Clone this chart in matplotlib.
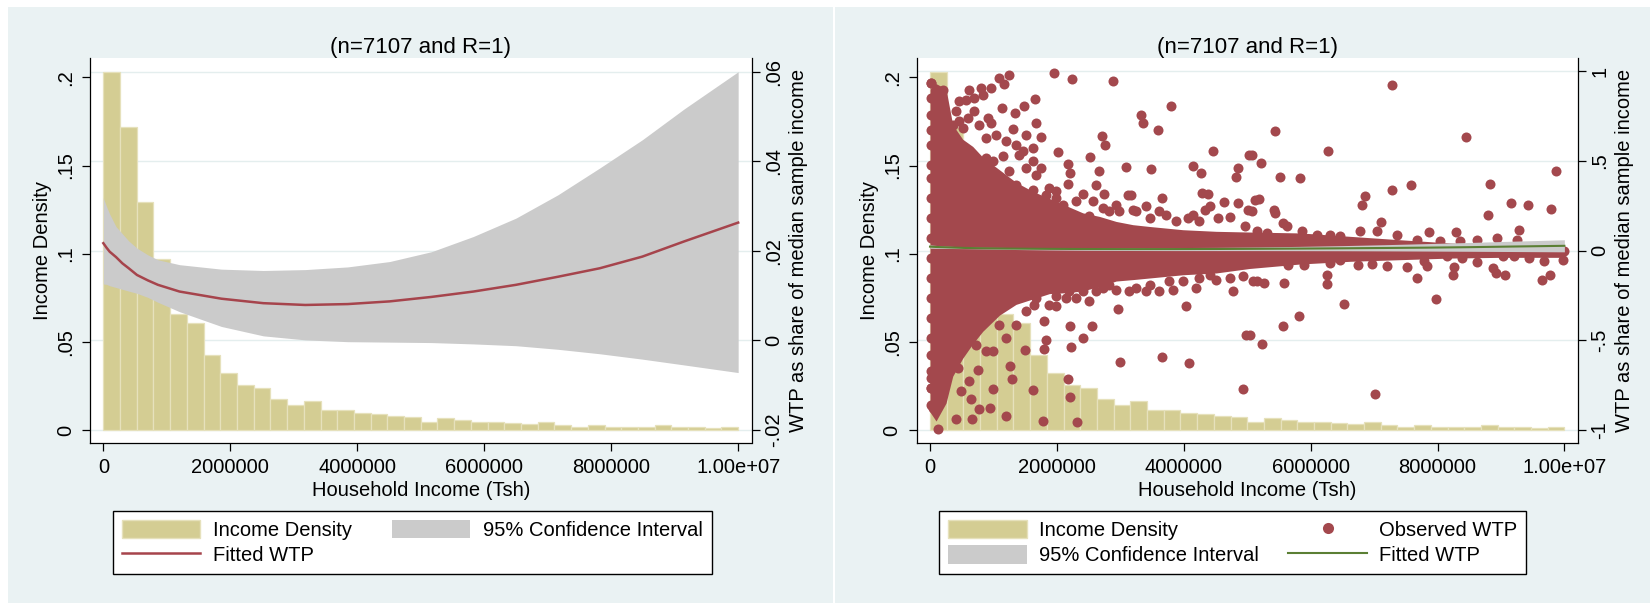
#!/bin/env python3

import numpy as np
import matplotlib
matplotlib.use("Agg")
import matplotlib.pyplot as plt
from   matplotlib.lines import Line2D
from   matplotlib.patches import Patch, Rectangle
from   matplotlib.transforms import blended_transform_factory

plt.rcParams['font.family'] = ['Liberation Sans', 'DejaVu Sans']

# ---------------------------------------------------------------- data

title = "(n=7107 and R=1)"

# income histogram, fraction of households in each of 38 equal bins
income_min  = 0.0
income_max  = 1.0e7
income_frac = [0.2030, 0.1720, 0.1291, 0.0968, 0.0656, 0.0608, 0.0423, 0.0321,
               0.0253, 0.0240, 0.0178, 0.0140, 0.0163, 0.0115, 0.0115, 0.0098,
               0.0089, 0.0078, 0.0072, 0.0047, 0.0066, 0.0055, 0.0047, 0.0044,
               0.0040, 0.0032, 0.0047, 0.0027, 0.0019, 0.0027, 0.0019, 0.0015,
               0.0019, 0.0027, 0.0019, 0.0019, 0.0010, 0.0015]

# fitted WTP (share of median sample income) and its 95% band, income in millions
fit_income_m = [0.0, 0.05, 0.1, 0.2, 0.3, 0.4, 0.53, 0.7, 0.86, 1.2,
                1.86, 2.52, 3.18, 3.85, 4.51, 5.17, 5.83, 6.5, 7.16, 7.82,
                8.49, 9.15, 10.0]
fit_wtp      = [0.0217, 0.0207, 0.0198, 0.0186, 0.0172, 0.0161, 0.0146, 0.0134, 0.0124, 0.0109,
                0.0093, 0.0083, 0.0079, 0.0081, 0.0087, 0.0097, 0.0109, 0.0124, 0.0142, 0.0161,
                0.0187, 0.0221, 0.0263]
ci_high      = [0.0318, 0.0299, 0.0282, 0.0254, 0.0238, 0.0222, 0.0206, 0.0191, 0.0180, 0.0169,
                0.0159, 0.0156, 0.0158, 0.0164, 0.0176, 0.0198, 0.0232, 0.0273, 0.0325, 0.0385,
                0.0448, 0.0517, 0.0600]
ci_low       = [0.0126, 0.0125, 0.0122, 0.0118, 0.0114, 0.0110, 0.0105, 0.0096, 0.0085, 0.0064,
                0.0031, 0.0010, 0.0001, -0.0003, -0.0004, -0.0005, -0.0008, -0.0012, -0.0020, -0.0030,
                -0.0042, -0.0055, -0.0072]

# observed WTP: outline of the solid block of overlapping points
core_income_m = [0.0, 0.095, 0.252, 0.358, 0.515, 0.673, 0.831, 1.094, 1.356, 1.619,
                 1.882, 2.145, 2.408, 2.671, 2.934, 3.197, 3.46, 3.985, 4.511, 5.037,
                 5.836, 6.624, 7.413, 8.202, 8.99, 9.99]
core_high     = [0.900, 0.930, 0.900, 0.700, 0.620, 0.580, 0.520, 0.450, 0.380, 0.330,
                 0.290, 0.250, 0.210, 0.190, 0.162, 0.144, 0.134, 0.116, 0.107, 0.103,
                 0.098, 0.079, 0.060, 0.042, 0.033, 0.033]
core_low      = [-0.900, -0.950, -0.850, -0.700, -0.600, -0.520, -0.450, -0.360, -0.300, -0.270,
                 -0.240, -0.235, -0.225, -0.200, -0.170, -0.162, -0.153, -0.135, -0.125, -0.100,
                 -0.075, -0.060, -0.051, -0.042, -0.038, -0.038]

# observed WTP: individual points outside (or on the edge of) the solid block
obs_income_m = [
    0.01, 0.01, 0.01, 0.01, 0.01, 0.01, 0.01, 0.01, 0.01, 0.01,
    0.01, 0.01, 0.01, 0.01, 0.01, 0.01, 0.01, 0.01, 0.01,
    0.016, 0.095, 0.200, 0.620, 0.804, 0.962, 1.094, 1.251, 1.172, 0.568,
    0.699, 0.831, 0.463, 1.951, 2.234, 2.881, 1.136, 1.346, 1.488, 1.656,
    1.672, 1.304, 0.962, 0.594, 0.463, 3.328, 3.354, 3.801, 3.601, 2.708,
    2.766, 2.024, 2.524, 4.458, 5.026, 2.171, 2.213, 3.091, 3.491, 4.143,
    4.274, 4.853, 4.826, 2.660, 2.618, 2.171, 2.408, 2.750, 3.118, 3.170,
    3.654, 4.290, 4.380, 4.642, 4.853, 5.011, 4.406, 4.327, 3.617, 3.249,
    2.986, 1.514, 1.751, 1.619, 1.409, 1.514, 1.751, 1.146, 0.988, 0.883,
    1.041, 0.883, 1.830, 1.987, 2.093, 2.513, 2.829, 3.460, 4.064, 4.248,
    4.537, 4.721, 4.958, 5.116,
    0.410, 0.515, 0.699, 0.358, 0.778, 0.910, 1.041, 1.199, 1.356, 1.462,
    1.251, 1.619, 1.356, 1.672, 1.882, 1.619, 1.987, 2.303, 2.566, 2.723,
    2.934, 3.197, 3.407, 3.722, 3.880, 4.143,
    2.960, 2.213, 2.550, 2.408, 1.830, 1.803, 2.224, 1.803, 1.504, 4.984,
    2.997, 3.654, 4.080, 4.932, 2.171, 2.208, 1.619, 1.777, 2.319, 1.199,
    0.662, 0.410, 0.778, 0.946, 0.647, 0.489, 0.988, 1.288, 1.267, 0.762,
    0.620, 0.121, 0.042, 0.016, 0.010, 0.988, 0.883, 1.199, 1.356, 1.646,
    1.514, 1.094, 0.726, 0.463, 0.436, 1.882, 1.987, 2.145, 2.618, 2.513,
    2.303, 2.934, 3.144, 3.407, 3.617, 3.828, 4.038, 4.196, 4.406, 4.774,
    5.089,
    0.410, 0.568, 0.726, 0.883, 1.041, 1.199, 1.356, 1.514, 1.672, 1.987,
    2.198, 2.408, 2.723, 2.829, 3.249, 3.460, 3.775, 3.985, 4.248, 4.511,
    4.721, 4.932,
    7.29, 5.44, 8.45, 6.28, 5.07, 5.22, 5.52, 5.84, 9.87, 8.82,
    7.58, 7.29, 6.86, 6.81, 9.16, 9.42, 9.79, 5.18, 5.07, 5.43,
    5.44, 8.80, 7.11, 9.28, 7.87, 8.29, 5.86, 5.57, 5.63, 5.15,
    5.31, 6.78, 7.04, 7.36, 8.94, 6.47, 6.10, 6.31, 8.62, 7.68,
    8.04, 8.36, 9.25, 9.99, 9.83, 9.57,
    7.02, 5.23, 5.05, 5.57, 5.82, 6.52, 7.98, 6.26, 6.26, 5.58,
    5.26, 5.15, 7.68, 8.25, 8.26, 9.07, 8.92, 9.65, 9.77, 9.98,
    9.68, 9.44, 8.62, 8.87, 8.38, 7.84, 7.52, 7.20, 6.97, 6.74,
    5.89, 5.65, 5.36, 6.31, 6.47, 8.15, 9.20, 9.04, 7.78,
]
obs_wtp = [
    0.933, 0.850, 0.757, 0.673, 0.590, 0.479, 0.404, 0.292, 0.181, 0.070,
    -0.042, -0.153, -0.265, -0.376, -0.487, -0.580, -0.673, -0.766, -0.859,
    0.933, 0.887, 0.896, 0.896, 0.905, 0.905, 0.961, 0.976, 0.928, 0.840,
    0.850, 0.868, 0.831, 0.989, 0.957, 0.946, 0.794, 0.766, 0.807, 0.846,
    0.710, 0.679, 0.710, 0.738, 0.720, 0.757, 0.710, 0.803, 0.670, 0.636,
    0.586, 0.547, 0.521, 0.552, 0.534, 0.484, 0.432, 0.465, 0.454, 0.469,
    0.432, 0.460, 0.408, 0.441, 0.367, 0.370, 0.317, 0.315, 0.307, 0.311,
    0.292, 0.320, 0.315, 0.268, 0.265, 0.227, 0.246, 0.227, 0.222, 0.218,
    0.218, 0.645, 0.630, 0.571, 0.534, 0.460, 0.460, 0.525, 0.497, 0.627,
    0.376, 0.515, 0.311, 0.292, 0.255, 0.190, 0.218, 0.181, 0.181, 0.162,
    0.181, 0.185, 0.135, 0.283,
    0.775, 0.682, 0.775, 0.701, 0.701, 0.738, 0.645, 0.608, 0.590, 0.552,
    0.441, 0.497, 0.367, 0.423, 0.349, 0.339, 0.330, 0.274, 0.274, 0.237,
    0.255, 0.227, 0.246, 0.200, 0.162, 0.200,
    -0.324, -0.419, -0.419, -0.487, -0.497, -0.395, -0.540, -0.547, -0.552, -0.469,
    -0.623, -0.593, -0.627, -0.770, -0.714, -0.818, -0.779, -0.952, -0.957, -0.924,
    -0.939, -0.939, -0.883, -0.877, -0.826, -0.785, -0.770, -0.714, -0.645, -0.664,
    -0.729, -0.992, -0.877, -0.766, -0.710, -0.562, -0.562, -0.487, -0.413, -0.302,
    -0.339, -0.413, -0.525, -0.562, -0.655, -0.302, -0.311, -0.265, -0.227, -0.283,
    -0.265, -0.218, -0.227, -0.227, -0.227, -0.218, -0.311, -0.209, -0.135, -0.227,
    -0.172,
    -0.450, -0.413, -0.376, -0.339, -0.302, -0.265, -0.265, -0.227, -0.265, -0.255,
    -0.227, -0.227, -0.209, -0.190, -0.209, -0.190, -0.172, -0.172, -0.153, -0.162,
    -0.153, -0.144,
    0.920, 0.668, 0.634, 0.552, 0.534, 0.487, 0.409, 0.404, 0.441, 0.370,
    0.363, 0.335, 0.302, 0.255, 0.265, 0.255, 0.231, 0.289, 0.218, 0.227,
    0.209, 0.200, 0.159, 0.112, 0.103, 0.103, 0.110, 0.153, 0.135, 0.110,
    0.098, 0.107, 0.107, 0.088, 0.070, 0.079, 0.088, 0.088, 0.060, 0.060,
    0.051, 0.051, 0.060, -0.001, -0.005, -0.001,
    -0.800, -0.521, -0.469, -0.423, -0.367, -0.298, -0.268, -0.187, -0.135, -0.181,
    -0.181, -0.172, -0.153, -0.135, -0.094, -0.135, -0.125, -0.162, -0.135, -0.055,
    -0.057, -0.042, -0.064, -0.097, -0.042, -0.088, -0.092, -0.088, -0.073, -0.079,
    -0.079, -0.079, -0.060, -0.070, -0.051, -0.032, -0.032, -0.032, -0.060,
]

# axes
x_ticks         = [0, 2e6, 4e6, 6e6, 8e6, 1e7]
x_tick_labels   = ["0", "2000000", "4000000", "6000000", "8000000", "1.00e+07"]
dens_ticks      = [0, 0.05, 0.1, 0.15, 0.2]
dens_labels     = ["0", ".05", ".1", ".15", ".2"]
share_ticks_a   = [-0.02, 0, 0.02, 0.04, 0.06]
share_labels_a  = ["-.02", "0", ".02", ".04", ".06"]
share_ticks_b   = [-1, -0.5, 0, 0.5, 1]
share_labels_b  = ["-1", "-.5", "0", ".5", "1"]

# ---------------------------------------------------------------- style

FIG_W, FIG_H = 1650, 603

BG       = '#EAF2F3'
GRID     = '#E4EEEE'
HIST     = '#D4CD93'
HIST_ED  = '#E6E1BC'
CI_GRAY  = '#CBCBCB'
RED      = '#A6444C'
DOT      = '#A3484D'
GREEN    = '#5B7F34'

FS       = 14.5
FS_TITLE = 16

X_LIM     = (-210000, 10210000)
DENS_LIM  = (-0.0075, 0.2108)
SHARE_A   = (-0.0230, 0.0630)
SHARE_B   = (-1.074, 1.071)


def fig_box(x0: float, y0: float, x1: float, y1: float) -> list:
    """pixel box (top-left origin) to figure fraction"""
    return [x0 / FIG_W, 1 - y1 / FIG_H, (x1 - x0) / FIG_W, (y1 - y0) / FIG_H]


def make_panel(fig, box, share_ticks, share_labels, share_lim):
    """white plot region with density axis on the left and WTP share on the right"""

    ax_h = fig.add_axes(fig_box(*box))
    ax_h.set_facecolor('white')
    ax_r = ax_h.twinx()

    ax_h.set_xlim(X_LIM)
    ax_h.set_ylim(DENS_LIM)
    ax_r.set_ylim(share_lim)

    # faint grid at the share ticks, kept under the bars
    trans = blended_transform_factory(ax_h.transAxes, ax_r.transData)
    for v in share_ticks:
        ax_h.plot([0, 1], [v, v], transform=trans, color=GRID, lw=1.0, zorder=0.5)

    edges = np.linspace(income_min, income_max, len(income_frac) + 1)
    ax_h.bar(edges[:-1], income_frac, width=np.diff(edges), align='edge',
             color=HIST, edgecolor=HIST_ED, linewidth=0.9, zorder=1)

    for s in ['top', 'right']:
        ax_h.spines[s].set_visible(False)
    for s in ['top', 'left', 'bottom']:
        ax_r.spines[s].set_visible(False)
    for sp in [ax_h.spines['left'], ax_h.spines['bottom'], ax_r.spines['right']]:
        sp.set_linewidth(0.9)

    ax_h.set_xticks(x_ticks, x_tick_labels)
    ax_h.set_yticks(dens_ticks, dens_labels)
    ax_r.set_yticks(share_ticks, share_labels)

    ax_h.tick_params(axis='both', direction='out', length=5.8, width=0.9, labelsize=FS)
    ax_h.tick_params(axis='x', pad=4.5)
    ax_h.tick_params(axis='y', pad=5, labelrotation=90)
    ax_r.tick_params(axis='y', direction='out', length=5.8, width=0.9, labelsize=FS,
                     pad=3.5, labelrotation=90)
    for lbl in ax_h.get_yticklabels() + ax_r.get_yticklabels():
        lbl.set_va('center')

    ax_h.set_xlabel("Household Income (Tsh)", fontsize=FS, labelpad=3)
    ax_h.set_ylabel("Income Density", fontsize=FS, labelpad=3)
    ax_r.set_ylabel("WTP as share of median sample income", fontsize=FS, labelpad=4)
    ax_h.set_title(title, fontsize=FS_TITLE, pad=4)

    return ax_h, ax_r


def add_legend(fig, handles, labels, x, y, colsp):
    leg = fig.legend(handles, labels, ncol=2, loc='upper left',
                     bbox_to_anchor=(x / FIG_W, 1 - y / FIG_H), fontsize=FS,
                     frameon=True, fancybox=False, edgecolor='black', framealpha=1,
                     borderpad=0.45, borderaxespad=0, handlelength=3.88,
                     handleheight=1.03, handletextpad=0.63, columnspacing=colsp,
                     labelspacing=0.27, numpoints=1)
    leg.get_frame().set_linewidth(1.0)
    return leg


def main() -> int:
    fig = plt.figure(figsize=(FIG_W / 100, FIG_H / 100), dpi=100, facecolor='white')

    # shaded graph regions behind each panel
    for x0, x1 in [(8.3, 832.7), (835.3, 1650)]:
        fig.patches.append(Rectangle((x0 / FIG_W, 0), (x1 - x0) / FIG_W, 1 - 7 / FIG_H,
                                     transform=fig.transFigure, facecolor=BG,
                                     edgecolor='none', zorder=-10))

    fit_x  = np.array(fit_income_m) * 1e6
    core_x = np.array(core_income_m) * 1e6
    obs_x  = np.array(obs_income_m) * 1e6

    # left: histogram with fitted WTP and its band
    ax_h, ax_r = make_panel(fig, (90, 58.3, 751.5, 443.3), share_ticks_a, share_labels_a, SHARE_A)
    ax_r.fill_between(fit_x, ci_low, ci_high, color=CI_GRAY, lw=0, zorder=2)
    ax_r.plot(fit_x, fit_wtp, color=RED, lw=1.8, zorder=3)

    # right: same, plus the observed WTP points
    bx_h, bx_r = make_panel(fig, (916.7, 58.3, 1577.7, 443.3), share_ticks_b, share_labels_b, SHARE_B)
    bx_r.fill_between(core_x, core_low, core_high, color=DOT, lw=0, zorder=1)
    bx_r.scatter(obs_x, obs_wtp, s=52, color=DOT, linewidths=0, zorder=1.5)
    bx_r.fill_between(fit_x, ci_low, ci_high, color=CI_GRAY, lw=0, zorder=2)
    bx_r.plot(fit_x, fit_wtp, color=GREEN, lw=1.5, zorder=3)

    h_hist = Patch(facecolor=HIST, edgecolor=HIST_ED, linewidth=1.0)
    h_ci   = Patch(facecolor=CI_GRAY, edgecolor='none')
    h_red  = Line2D([], [], color=RED, lw=1.8)
    h_grn  = Line2D([], [], color=GREEN, lw=1.5)
    h_dot  = Line2D([], [], color=DOT, marker='o', ls='none', markersize=8, markeredgewidth=0)

    add_legend(fig, [h_hist, h_red, h_ci],
               ["Income Density", "Fitted WTP", "95% Confidence Interval"],
               113, 510.7, 1.99)
    add_legend(fig, [h_hist, h_ci, h_dot, h_grn],
               ["Income Density", "95% Confidence Interval", "Observed WTP", "Fitted WTP"],
               939.3, 510.7, 1.46)

    fig.savefig("out.png", dpi=100, facecolor='white')

    return 0


if __name__ == "__main__":
    main()
